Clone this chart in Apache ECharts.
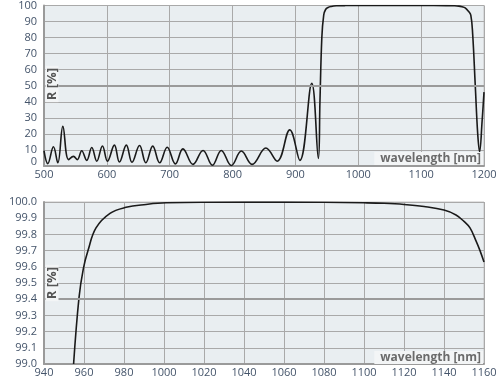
<!DOCTYPE html>
<html>
<head>
<meta charset="utf-8">
<script src="https://cdn.jsdelivr.net/npm/echarts@6/dist/echarts.min.js"></script>
<style>
  html, body { margin: 0; padding: 0; background: #fff; }
  #chart { width: 500px; height: 381px; }
</style>
</head>
<body>
<div id="chart"></div>
<script>
// full range spectrum (wavelength in nm, reflectance in %)
var topWl = [500, 506, 515, 522, 530, 539, 547, 553, 560, 568, 576, 584, 593, 601, 612, 620,
  631, 640, 652, 662, 673, 684, 696, 709, 721, 737, 753, 768, 782, 798, 814, 831, 853, 871,
  891, 907, 926, 936.5, 939, 942, 945, 948, 952, 957, 965, 980, 1000, 1100, 1140, 1153, 1160,
  1165, 1170, 1175, 1179, 1182, 1186, 1190, 1193, 1197, 1200];
var topR = [9.5, 1.5, 12, 2, 24.7, 4, 6, 4, 9.5, 3.5, 11.5, 3, 12.5, 3, 13, 2.5,
  13, 2.3, 12.8, 2, 12.4, 2, 11.7, 1.3, 10.7, 1, 9.7, 0.5, 9.7, 0.3, 9.3, 1, 11.2, 3,
  22.5, 3.5, 51.5, 4.7, 40, 80, 94, 97.5, 98.8, 99.4, 99.8, 99.96, 99.99, 99.99, 99.95, 99.84, 99.63,
  99.2, 98.5, 96.5, 94, 82, 51, 20, 8.8, 28, 46];

// zoom on the stop band
var botWl = [954.8, 957.5, 959.7, 962, 966, 973, 981, 991, 1001, 1040, 1080, 1100, 1110, 1120,
  1130, 1140, 1146, 1150, 1153, 1156, 1158, 1160];
var botR = [99.0, 99.41, 99.59, 99.70, 99.84, 99.93, 99.967, 99.985, 99.995, 100.0, 99.998,
  99.995, 99.992, 99.985, 99.972, 99.95, 99.92, 99.88, 99.84, 99.76, 99.7, 99.63];

function pairs(xs, ys) {
    return xs.map(function (x, i) { return [x, ys[i]]; });
}

var chart = echarts.init(document.getElementById('chart'));

var labelFont = { color: '#44546a', fontSize: 11, fontFamily: 'Open Sans' };
var gridLine = { show: true, lineStyle: { color: '#a9a9a9', width: 1 } };
var axisLine = { show: true, lineStyle: { color: '#9a9a9a', width: 2 } };

function thickLine(v) {
    return {
        silent: true,
        symbol: 'none',
        label: { show: false },
        lineStyle: { color: '#9a9a9a', width: 2, type: 'solid' },
        data: [{ yAxis: v }]
    };
}

function plain(v) { return String(v); }

function rLabel(y) {
    return { type: 'text', x: 52, y: y, rotation: Math.PI / 2, z: 100,
        style: { text: 'R [%]', font: 'bold 13px "Open Sans"', fill: '#555',
                 align: 'center', verticalAlign: 'middle',
                 backgroundColor: '#f3f5f6', padding: [0, 2] } };
}

function wlLabel(y) {
    return { type: 'text', x: 483, y: y, z: 100,
        style: { text: 'wavelength [nm]', font: 'bold 12px "Open Sans"', fill: '#6b6b6b',
                 align: 'right', verticalAlign: 'middle',
                 backgroundColor: '#f3f5f6', padding: [1, 2, 0, 6] } };
}

var option = {
    animation: false,
    grid: [
        { left: 44, right: 16, top: 3, height: 163, show: true,
          backgroundColor: '#e9eef1', borderColor: '#c4c4c4', borderWidth: 1 },
        { left: 44, right: 16, top: 202, height: 162, show: true,
          backgroundColor: '#e9eef1', borderColor: '#c4c4c4', borderWidth: 1 }
    ],
    xAxis: [
        { type: 'value', gridIndex: 0, min: 500, max: 1200, interval: 100,
          axisLine: axisLine, axisTick: { show: false }, splitLine: gridLine,
          axisLabel: Object.assign({ margin: 3, formatter: plain }, labelFont) },
        { type: 'value', gridIndex: 1, min: 940, max: 1160, interval: 20,
          axisLine: axisLine, axisTick: { show: false }, splitLine: gridLine,
          axisLabel: Object.assign({ margin: 3, formatter: plain }, labelFont) }
    ],
    yAxis: [
        { type: 'value', gridIndex: 0, min: 0, max: 100, interval: 10,
          axisLine: axisLine, axisTick: { show: false }, splitLine: gridLine,
          axisLabel: Object.assign({ margin: 7, showMinLabel: true, lineHeight: 9,
                                     verticalAlignMinLabel: 'bottom', formatter: plain }, labelFont) },
        { type: 'value', gridIndex: 1, min: 99, max: 100, interval: 0.1,
          axisLine: axisLine, axisTick: { show: false }, splitLine: gridLine,
          axisLabel: Object.assign({ margin: 7, showMinLabel: true, lineHeight: 9,
                                     formatter: function (v) { return v.toFixed(1); } }, labelFont) }
    ],
    series: [
        { type: 'line', xAxisIndex: 0, yAxisIndex: 0, data: pairs(topWl, topR),
          showSymbol: false, smooth: 0.4, clip: true,
          lineStyle: { color: '#1a1a1a', width: 1.6 },
          markLine: thickLine(50) },
        { type: 'line', xAxisIndex: 1, yAxisIndex: 1, data: pairs(botWl, botR),
          showSymbol: false, smooth: 0.4, clip: true,
          lineStyle: { color: '#1a1a1a', width: 1.6 },
          markLine: thickLine(99.4) }
    ],
    graphic: [rLabel(84), rLabel(283), wlLabel(158.5), wlLabel(357.5)]
};

chart.setOption(option);
</script>
</body>
</html>
